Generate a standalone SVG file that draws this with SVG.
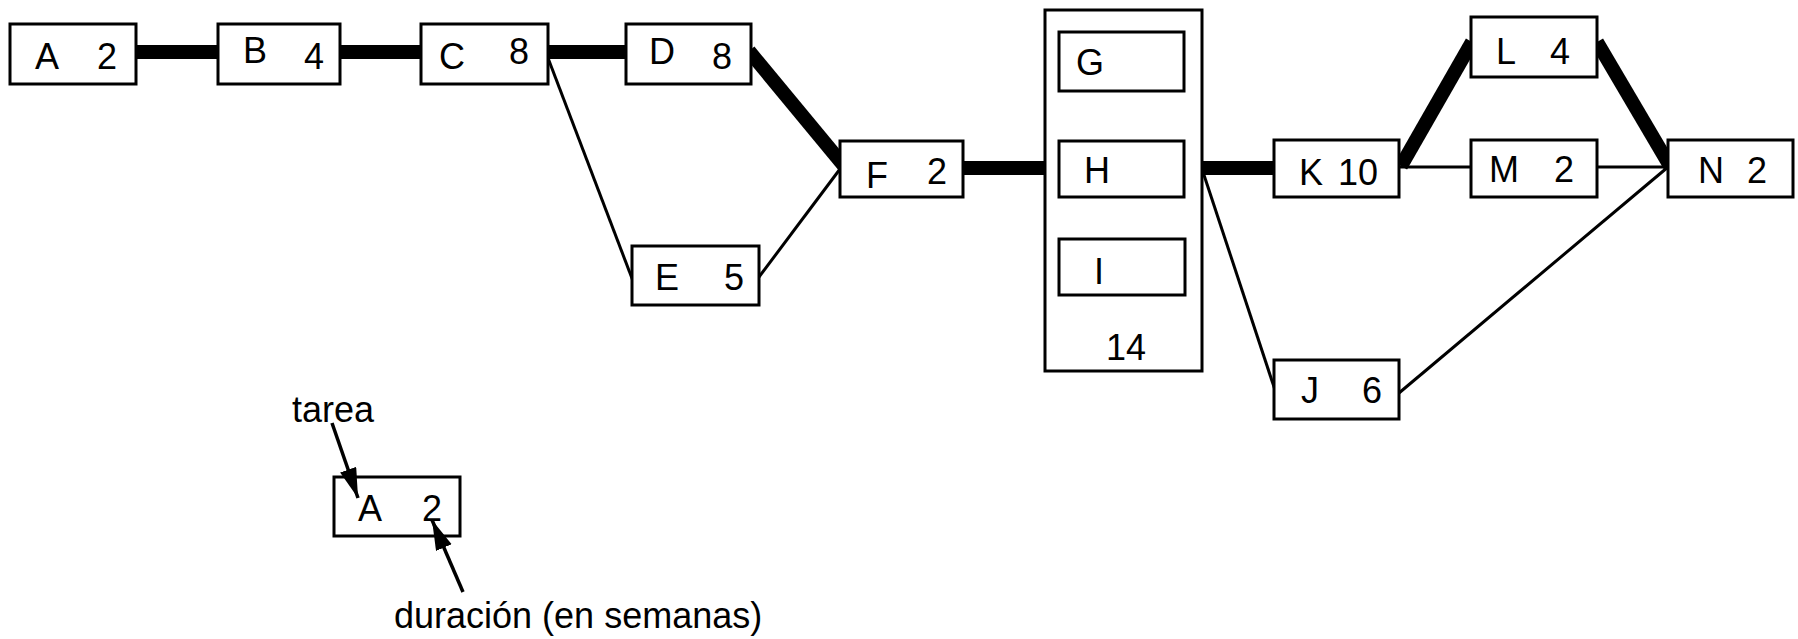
<svg xmlns="http://www.w3.org/2000/svg" width="1798" height="639" viewBox="0 0 1798 639">
  <style>
    .box { fill: #fff; stroke: #000; stroke-width: 3; }
    .lbl { font-family: "Liberation Sans", Arial, sans-serif; font-size: 36px; fill: #000; }
    .thick { stroke: #000; stroke-width: 14; stroke-linecap: butt; fill: none; }
    .thin { stroke: #000; stroke-width: 3; fill: none; }
    .ptr { stroke: #000; stroke-width: 3.5; fill: none; }
  </style>
  <defs>
    <marker id="head" markerUnits="userSpaceOnUse" markerWidth="32" markerHeight="18" refX="30" refY="8.5" orient="auto">
      <path d="M0,0 L30,8.5 L0,17 z" fill="#000"/>
    </marker>
  </defs>
  <rect width="1798" height="639" fill="#fff"/>

  <!-- connectors: thick = critical path, thin = slack paths -->
  <g id="connectors">
    <line class="thick" x1="136" y1="52" x2="218" y2="52"/>
    <line class="thick" x1="340" y1="52" x2="421" y2="52"/>
    <line class="thick" x1="548" y1="52" x2="626" y2="52"/>
    <line class="thick" x1="749" y1="51" x2="845" y2="167"/>
    <line class="thick" x1="963" y1="168" x2="1045" y2="168"/>
    <line class="thick" x1="1202" y1="168" x2="1274" y2="168"/>
    <line class="thick" x1="1401" y1="166" x2="1472" y2="42"/>
    <line class="thick" x1="1597" y1="42" x2="1670" y2="166"/>
    <line class="thin" x1="548" y1="58" x2="633" y2="281"/>
    <line class="thin" x1="759" y1="277" x2="840" y2="169"/>
    <line class="thin" x1="1203" y1="172" x2="1276" y2="393"/>
    <line class="thin" x1="1399" y1="167" x2="1471" y2="167"/>
    <line class="thin" x1="1597" y1="167" x2="1668" y2="167"/>
    <line class="thin" x1="1399" y1="393" x2="1668" y2="167"/>
  </g>

  <g id="nodeA">
    <rect class="box" x="10" y="24" width="126" height="60"/>
    <text class="lbl" x="35" y="69">A</text>
    <text class="lbl" x="97" y="69">2</text>
  </g>
  <g id="nodeB">
    <rect class="box" x="218" y="24" width="122" height="60"/>
    <text class="lbl" x="243" y="63">B</text>
    <text class="lbl" x="304" y="69">4</text>
  </g>
  <g id="nodeC">
    <rect class="box" x="421" y="24" width="127" height="60"/>
    <text class="lbl" x="439" y="69">C</text>
    <text class="lbl" x="509" y="64">8</text>
  </g>
  <g id="nodeD">
    <rect class="box" x="626" y="24" width="125" height="60"/>
    <text class="lbl" x="649" y="64">D</text>
    <text class="lbl" x="712" y="69">8</text>
  </g>
  <g id="nodeE">
    <rect class="box" x="632" y="246" width="127" height="59"/>
    <text class="lbl" x="655" y="290">E</text>
    <text class="lbl" x="724" y="290">5</text>
  </g>
  <g id="nodeF">
    <rect class="box" x="840" y="141" width="123" height="56"/>
    <text class="lbl" x="866" y="188">F</text>
    <text class="lbl" x="927" y="184">2</text>
  </g>
  <g id="nodeGHI">
    <rect class="box" x="1045" y="10" width="157" height="361"/>
    <rect class="box" x="1059" y="32" width="125" height="59"/>
    <text class="lbl" x="1076" y="75">G</text>
    <rect class="box" x="1059" y="141" width="125" height="56"/>
    <text class="lbl" x="1084" y="183">H</text>
    <rect class="box" x="1059" y="239" width="126" height="56"/>
    <text class="lbl" x="1094" y="284">I</text>
    <text class="lbl" x="1106" y="360">14</text>
  </g>
  <g id="nodeJ">
    <rect class="box" x="1274" y="360" width="125" height="59"/>
    <text class="lbl" x="1301" y="403">J</text>
    <text class="lbl" x="1362" y="403">6</text>
  </g>
  <g id="nodeK">
    <rect class="box" x="1274" y="140" width="125" height="57"/>
    <text class="lbl" x="1299" y="185">K</text>
    <text class="lbl" x="1338" y="185">10</text>
  </g>
  <g id="nodeL">
    <rect class="box" x="1471" y="17" width="126" height="60"/>
    <text class="lbl" x="1496" y="64">L</text>
    <text class="lbl" x="1550" y="64">4</text>
  </g>
  <g id="nodeM">
    <rect class="box" x="1471" y="140" width="126" height="57"/>
    <text class="lbl" x="1489" y="182">M</text>
    <text class="lbl" x="1554" y="182">2</text>
  </g>
  <g id="nodeN">
    <rect class="box" x="1668" y="140" width="125" height="57"/>
    <text class="lbl" x="1698" y="183">N</text>
    <text class="lbl" x="1747" y="183">2</text>
  </g>

  <!-- legend -->
  <g id="legend">
    <rect class="box" x="334" y="477" width="126" height="59"/>
    <text class="lbl" x="358" y="521">A</text>
    <text class="lbl" x="422" y="521">2</text>
    <text class="lbl" x="292" y="422">tarea</text>
    <text class="lbl" x="394" y="628">duración (en semanas)</text>
    <line class="ptr" x1="332" y1="423" x2="358" y2="498" marker-end="url(#head)"/>
    <line class="ptr" x1="463" y1="592" x2="432" y2="520" marker-end="url(#head)"/>
  </g>
</svg>
